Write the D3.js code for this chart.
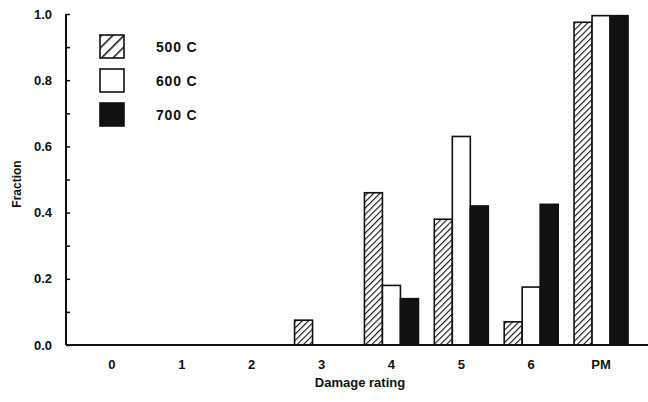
<!DOCTYPE html>
<html><head><meta charset="utf-8">
<script src="https://cdn.jsdelivr.net/npm/d3@7"></script>
<style>body{margin:0;background:#fff}svg{display:block}text{font-family:Arial,"Liberation Sans",sans-serif;font-weight:bold;fill:#111}</style>
</head><body><svg id="c" width="648" height="402"></svg>
<script>
const categories = ["0","1","2","3","4","5","6","PM"];
const seriesNames = ["500 C","600 C","700 C"];
const s500 = [0,0,0,0.075,0.46,0.38,0.07,0.975];
const s600 = [0,0,0,0,0.18,0.63,0.175,0.995];
const s700 = [0,0,0,0,0.14,0.42,0.425,0.995];
const yTicks = [0,0.2,0.4,0.6,0.8,1.0];
const yMinorTicks = [0.1,0.3,0.5,0.7,0.9];

const series = [s500,s600,s700];
const svg = d3.select("#c");
const defs = svg.append("defs");
function hatch(id, w, sw){
  const p = defs.append("pattern").attr("id",id).attr("patternUnits","userSpaceOnUse")
    .attr("width",w).attr("height",w).attr("patternTransform","rotate(45)");
  p.append("rect").attr("width",w).attr("height",w).attr("fill","#fff");
  p.append("line").attr("x1",0).attr("y1",0).attr("x2",0).attr("y2",w).attr("stroke","#111").attr("stroke-width",sw);
}
hatch("hatch",4.4,2.2);
hatch("hatchL",8,3);

const x0 = d3.scaleBand().domain(categories).range([77,636]).paddingInner(0);
const x1 = d3.scaleBand().domain(d3.range(3)).range([0,54]);
const y = d3.scaleLinear().domain([0,1]).range([345,14]);
const off = (x0.bandwidth()-54)/2;
const fills = ["url(#hatch)","#fff","#111"];
const lfills = ["url(#hatchL)","#fff","#111"];

const g = svg.append("g");
categories.forEach((c,i)=>{
  series.forEach((s,j)=>{
    const v = s[i];
    g.append("rect").attr("x",x0(c)+off+x1(j)).attr("y",y(v))
      .attr("width",x1.bandwidth()).attr("height",y(0)-y(v))
      .attr("fill",fills[j]).attr("stroke","#111").attr("stroke-width",1.6);
  });
});

const ff = "Arial,'Liberation Sans',sans-serif";
// axes
const yAxis = d3.axisLeft(y).tickValues(yTicks).tickFormat(d3.format(".1f")).tickSize(-4).tickPadding(14);
const ya = svg.append("g").attr("transform","translate(66,0)").call(yAxis);
ya.select(".domain").attr("stroke","#111").attr("stroke-width",2).attr("d","M0,14V345");
ya.selectAll(".tick line").attr("stroke","#111").attr("stroke-width",1.5);
ya.selectAll(".tick text").attr("font-size",13).attr("fill","#111").attr("font-family",ff).attr("font-weight","bold");
const ym = svg.append("g").attr("transform","translate(66,0)").call(d3.axisLeft(y).tickValues(yMinorTicks).tickSize(-4).tickFormat(""));
ym.select(".domain").remove();
ym.selectAll(".tick line").attr("stroke","#111").attr("stroke-width",1.5);

const xAxis = d3.axisBottom(x0).tickSize(0).tickPadding(15);
const xa = svg.append("g").attr("transform","translate(0,345)").call(xAxis);
xa.select(".domain").attr("stroke","#111").attr("stroke-width",2).attr("d","M66,0H648");
xa.selectAll(".tick text").attr("font-size",13).attr("fill","#111").attr("font-family",ff).attr("font-weight","bold");

svg.append("text").attr("x",360).attr("y",387).attr("text-anchor","middle").attr("font-size",13).text("Damage rating");
svg.append("text").attr("transform","translate(21,184) rotate(-90)").attr("text-anchor","middle").attr("font-size",12).text("Fraction");

// legend
const leg = svg.append("g");
seriesNames.forEach((n,j)=>{
  leg.append("rect").attr("x",100).attr("y",35+j*34).attr("width",24).attr("height",23)
    .attr("fill",lfills[j]).attr("stroke","#111").attr("stroke-width",1.6);
  leg.append("text").attr("x",156).attr("y",52+j*34).attr("font-size",14).attr("letter-spacing",0.8).text(n);
});
</script></body></html>
